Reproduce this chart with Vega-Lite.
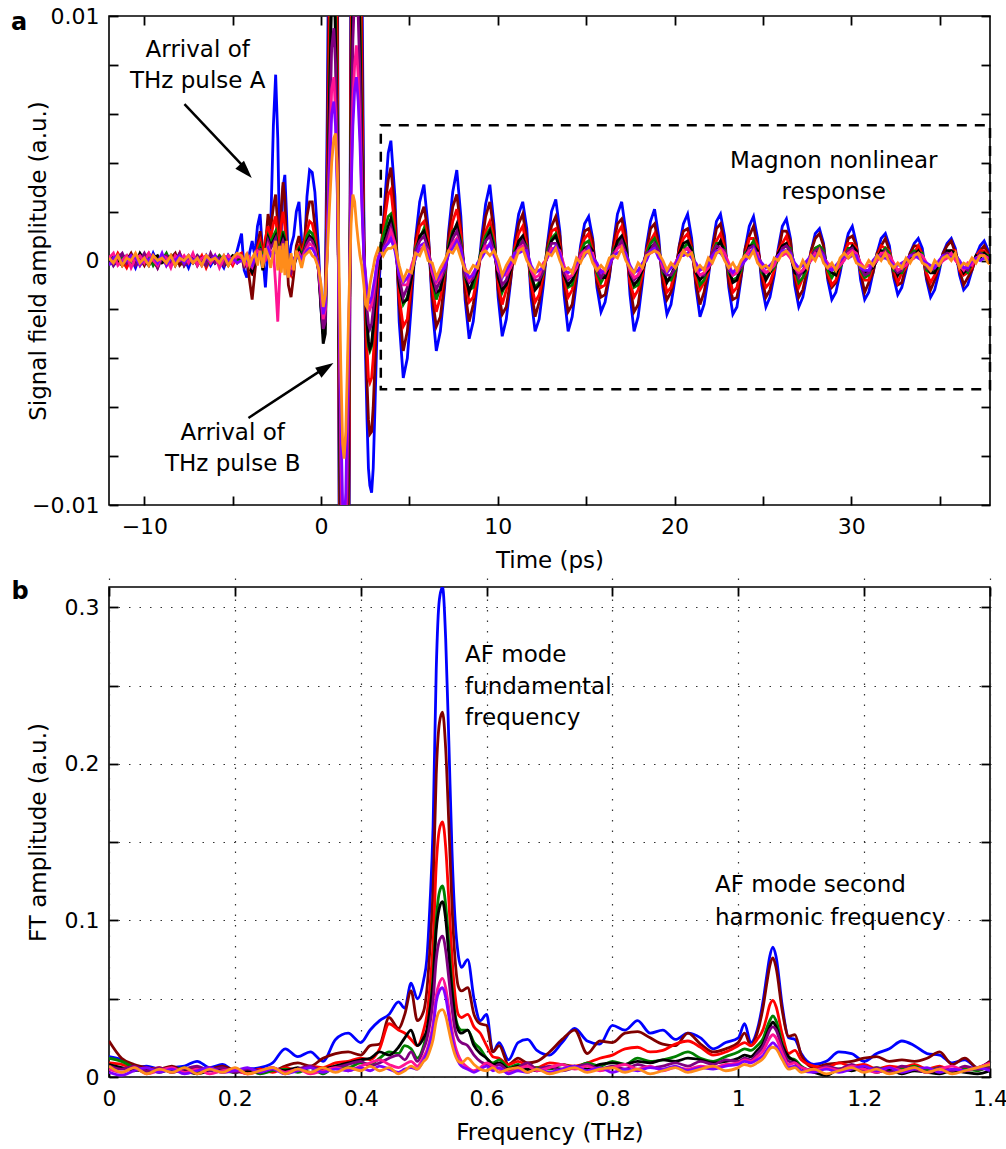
{
"$schema":"https://vega.github.io/schema/vega-lite/v6.json",
"background":"white",
"padding":{"left":10,"top":4,"right":0,"bottom":0},
"bounds":"flush",
"spacing":82,
"config":{
"view":{"stroke":"black","strokeWidth":1.6},
"font":"DejaVu Sans",
"text":{"font":"DejaVu Sans","color":"black"},
"axis":{"labelFont":"DejaVu Sans","labelFontSize":22,"labelColor":"black","titleFont":"DejaVu Sans","titleFontSize":23,"titleFontWeight":"normal","titleColor":"black","domain":false,"ticks":true,"tickColor":"black","tickWidth":1.8,"tickSize":9,"offset":-9,"labelFlush":false,"labelOverlap":false,"grid":false}
},
"datasets":{
"td":[
{"t":-12,"B":0.0001,"D":-0.0001,"R":0.0002,"G":0,"K":-0.0001,"P":0.0002,"M":0.0001,"V":-0.0002,"O":0.0001},
{"t":-11.75,"B":-0.0002,"D":0.0001,"R":-0.0001,"G":0.0002,"K":0.0001,"P":-0.0002,"M":0.0003,"V":0.0001,"O":-0.0001},
{"t":-11.5,"B":0,"D":0.0002,"R":0.0003,"G":-0.0001,"K":0,"P":0.0001,"M":-0.0002,"V":0.0002,"O":0.0002},
{"t":-11.25,"B":0.0002,"D":-0.0002,"R":0,"G":0.0001,"K":-0.0002,"P":0.0003,"M":0,"V":-0.0001,"O":-0.0002},
{"t":-11,"B":-0.0001,"D":0,"R":-0.0003,"G":0.0002,"K":0.0001,"P":-0.0001,"M":0.0002,"V":0,"O":0.0001},
{"t":-10.75,"B":0.0001,"D":0.0003,"R":0.0001,"G":-0.0002,"K":0.0002,"P":0.0002,"M":-0.0003,"V":0.0002,"O":0},
{"t":-10.5,"B":-0.0003,"D":-0.0001,"R":0.0002,"G":0,"K":-0.0001,"P":-0.0002,"M":0.0001,"V":0.0001,"O":0.0003},
{"t":-10.25,"B":0.0002,"D":0.0001,"R":-0.0002,"G":0.0001,"K":0.0003,"P":0,"M":0.0002,"V":-0.0002,"O":-0.0001},
{"t":-10,"B":0,"D":-0.0002,"R":0.0001,"G":-0.0001,"K":0,"P":0.0003,"M":-0.0001,"V":0.0001,"O":0.0001},
{"t":-9.75,"B":-0.0002,"D":0.0002,"R":0.0003,"G":0.0002,"K":-0.0002,"P":-0.0001,"M":0.0003,"V":0,"O":-0.0002},
{"t":-9.5,"B":0.0003,"D":0,"R":-0.0001,"G":-0.0002,"K":0.0001,"P":0.0002,"M":0,"V":0.0002,"O":0.0002},
{"t":-9.25,"B":-0.0001,"D":-0.0003,"R":0,"G":0.0001,"K":0.0002,"P":-0.0003,"M":-0.0002,"V":-0.0001,"O":0},
{"t":-9,"B":0.0001,"D":0.0002,"R":0.0002,"G":0,"K":-0.0001,"P":0.0001,"M":0.0002,"V":0.0003,"O":0.0001},
{"t":-8.75,"B":0,"D":-0.0001,"R":-0.0002,"G":0.0003,"K":0,"P":0.0002,"M":0.0001,"V":-0.0002,"O":-0.0001},
{"t":-8.5,"B":-0.0002,"D":0.0001,"R":0.0001,"G":-0.0001,"K":0.0002,"P":-0.0001,"M":-0.0003,"V":0.0001,"O":0.0002},
{"t":-8.25,"B":0.0002,"D":0.0003,"R":-0.0001,"G":0,"K":-0.0002,"P":0,"M":0.0002,"V":0,"O":-0.0002},
{"t":-8,"B":-0.0001,"D":-0.0002,"R":0.0003,"G":0.0002,"K":0.0001,"P":0.0003,"M":0,"V":0.0002,"O":0.0001},
{"t":-7.75,"B":0.0001,"D":0,"R":-0.0002,"G":-0.0002,"K":0,"P":-0.0002,"M":0.0002,"V":-0.0001,"O":0},
{"t":-7.5,"B":-0.0003,"D":0.0002,"R":0,"G":0.0001,"K":-0.0001,"P":0.0001,"M":-0.0001,"V":0.0002,"O":0.0002},
{"t":-7.25,"B":0.0002,"D":-0.0001,"R":0.0002,"G":-0.0001,"K":0.0002,"P":-0.0001,"M":0.0003,"V":0,"O":-0.0001},
{"t":-7,"B":0,"D":0.0001,"R":-0.0001,"G":0.0002,"K":-0.0002,"P":0.0002,"M":-0.0002,"V":0.0001,"O":0.0001},
{"t":-6.75,"B":-0.0001,"D":-0.0002,"R":0.0002,"G":0,"K":0.0001,"P":0,"M":0.0001,"V":-0.0002,"O":-0.0002},
{"t":-6.5,"B":0.0002,"D":0.0001,"R":-0.0003,"G":-0.0002,"K":0,"P":-0.0002,"M":0.0002,"V":0.0001,"O":0.0002},
{"t":-6.25,"B":-0.0002,"D":0,"R":0.0001,"G":0.0001,"K":0.0002,"P":0.0003,"M":-0.0001,"V":0,"O":0},
{"t":-6,"B":0.0001,"D":0.0002,"R":0,"G":-0.0001,"K":-0.0001,"P":-0.0001,"M":0.0002,"V":0.0002,"O":0.0001},
{"t":-5.75,"B":0,"D":-0.0001,"R":0.0002,"G":0.0002,"K":0.0001,"P":0.0001,"M":-0.0003,"V":-0.0001,"O":-0.0001},
{"t":-5.5,"B":-0.0003,"D":0.0001,"R":-0.0001,"G":0,"K":-0.0002,"P":-0.0002,"M":0.0001,"V":0.0002,"O":0.0002},
{"t":-5.25,"B":0.0002,"D":-0.0002,"R":0.0001,"G":-0.0002,"K":0,"P":0.0002,"M":0.0002,"V":0,"O":-0.0002},
{"t":-5,"B":-0.0001,"D":0.0001,"R":-0.0002,"G":0.0001,"K":0.0002,"P":0,"M":-0.0001,"V":0.0001,"O":0.0001},
{"t":-4.75,"B":0.0004,"D":-0.0001,"R":0.0002,"G":0,"K":0.0001,"P":0.0001,"M":0.0002,"V":-0.0001,"O":0.0003},
{"t":-4.5,"B":0.0011,"D":0.0002,"R":0.0003,"G":0.0001,"K":0.0001,"P":0.0002,"M":0.0001,"V":0,"O":0.0002},
{"t":-4.35,"B":-0.0004,"D":-0.0003,"R":-0.0001,"G":0,"K":-0.0001,"P":-0.0002,"M":0,"V":0.0001,"O":-0.0001},
{"t":-4.2,"B":-0.0007,"D":0.0001,"R":0.0002,"G":0.0001,"K":0,"P":0.0001,"M":-0.0002,"V":0,"O":0.0003},
{"t":-4.05,"B":0.0003,"D":-0.0008,"R":-0.0003,"G":-0.0002,"K":-0.0003,"P":-0.0002,"M":0.0001,"V":-0.0001,"O":-0.0002},
{"t":-3.9,"B":0.0008,"D":-0.0016,"R":-0.0006,"G":-0.0004,"K":-0.0005,"P":-0.0003,"M":-0.0002,"V":-0.0002,"O":0.0001},
{"t":-3.75,"B":0.0002,"D":-0.0005,"R":0.0001,"G":0,"K":-0.0001,"P":0,"M":0.0002,"V":0.0001,"O":0.0003},
{"t":-3.6,"B":0.0014,"D":0.0006,"R":0.0005,"G":0.0003,"K":0.0002,"P":0.0002,"M":0.0004,"V":0.0002,"O":-0.0002},
{"t":-3.45,"B":0.0019,"D":0.0012,"R":0.0008,"G":0.0006,"K":0.0004,"P":0.0005,"M":0.0003,"V":0.0003,"O":0.0004},
{"t":-3.3,"B":0.0002,"D":0.0003,"R":0.0002,"G":0.0001,"K":-0.0004,"P":-0.0002,"M":-0.0001,"V":0.0001,"O":-0.0003},
{"t":-3.15,"B":-0.0011,"D":0.0006,"R":0.0009,"G":0.0004,"K":0.0003,"P":0.0002,"M":0,"V":0.0003,"O":0.0005},
{"t":-3,"B":0.0006,"D":0.0019,"R":0.0014,"G":0.001,"K":0.0009,"P":0.0008,"M":0.0006,"V":0.0005,"O":0.0002},
{"t":-2.85,"B":0.0014,"D":0.0013,"R":0.0009,"G":0.0007,"K":0.0006,"P":0.0005,"M":0.0003,"V":0.0002,"O":-0.0003},
{"t":-2.7,"B":0.0055,"D":0.0022,"R":0.0015,"G":0.001,"K":0.0008,"P":0.0007,"M":0.0004,"V":0.0003,"O":0.0004},
{"t":-2.57,"B":0.0076,"D":0.0027,"R":0.0018,"G":0.0012,"K":0.001,"P":0.0009,"M":-0.001,"V":0.0004,"O":0.0008},
{"t":-2.45,"B":0.005,"D":0.0014,"R":0.0008,"G":0.0005,"K":0.0004,"P":0.0003,"M":-0.0025,"V":0.0002,"O":-0.0004},
{"t":-2.35,"B":0.0008,"D":0.0002,"R":0.0003,"G":0.0001,"K":-0.0002,"P":0,"M":-0.0008,"V":0.0001,"O":0.0006},
{"t":-2.25,"B":0.0012,"D":0.0022,"R":0.0015,"G":0.0009,"K":0.0007,"P":0.0006,"M":0.0005,"V":0.0004,"O":-0.0005},
{"t":-2.15,"B":0.003,"D":0.0032,"R":0.002,"G":0.0012,"K":0.001,"P":0.0008,"M":0.0006,"V":0.0005,"O":0.0007},
{"t":-2.05,"B":0.0035,"D":0.0025,"R":0.0014,"G":0.0009,"K":0.0008,"P":0.0006,"M":0.0005,"V":0.0003,"O":-0.0006},
{"t":-1.95,"B":0.0018,"D":0.0005,"R":0.0004,"G":0.0003,"K":0.0002,"P":0.0002,"M":0.0001,"V":0,"O":0.0008},
{"t":-1.85,"B":-0.0002,"D":-0.001,"R":-0.0004,"G":-0.0003,"K":-0.0002,"P":-0.0003,"M":-0.0002,"V":-0.0001,"O":-0.0007},
{"t":-1.7,"B":0.0006,"D":-0.0015,"R":-0.0006,"G":-0.0004,"K":-0.0004,"P":-0.0005,"M":-0.0003,"V":-0.0002,"O":0.0003},
{"t":-1.55,"B":0.001,"D":-0.0006,"R":-0.0002,"G":-0.0001,"K":-0.0002,"P":-0.0001,"M":0,"V":0.0001,"O":-0.0004},
{"t":-1.4,"B":0.002,"D":0.0006,"R":0.0004,"G":0.0003,"K":0.0001,"P":0.0002,"M":0.0002,"V":0.0001,"O":0.0004},
{"t":-1.25,"B":0.0024,"D":0.001,"R":0.0006,"G":0.0005,"K":0.0004,"P":0.0003,"M":0.0003,"V":0.0002,"O":0.0001},
{"t":-1.1,"B":0.0008,"D":0.0004,"R":0.0003,"G":0.0002,"K":0.0001,"P":0.0001,"M":0,"V":0.0001,"O":-0.0003},
{"t":-0.95,"B":0.0002,"D":0.0008,"R":0.0007,"G":0.0005,"K":0.0004,"P":0.0004,"M":0.0003,"V":0.0002,"O":0.0002},
{"t":-0.8,"B":0.0026,"D":0.0018,"R":0.0012,"G":0.001,"K":0.0008,"P":0.0007,"M":0.0005,"V":0.0004,"O":0.0003},
{"t":-0.65,"B":0.0037,"D":0.0024,"R":0.0016,"G":0.0012,"K":0.001,"P":0.0009,"M":0.0007,"V":0.0005,"O":0.0004},
{"t":-0.5,"B":0.0036,"D":0.0024,"R":0.0015,"G":0.0011,"K":0.0009,"P":0.0008,"M":0.0006,"V":0.0005,"O":0.0002},
{"t":-0.35,"B":0.0028,"D":0.0014,"R":0.001,"G":0.0007,"K":0.0006,"P":0.0005,"M":0.0004,"V":0.0003,"O":0.0001},
{"t":-0.15,"B":0.0005,"D":0,"R":-0.0002,"G":-0.0003,"K":-0.0004,"P":-0.0004,"M":-0.0003,"V":-0.0002,"O":-0.0003},
{"t":0,"B":-0.002,"D":-0.0018,"R":-0.0016,"G":-0.0018,"K":-0.002,"P":-0.0018,"M":-0.0014,"V":-0.0012,"O":-0.001},
{"t":0.12,"B":-0.003,"D":-0.0028,"R":-0.0026,"G":-0.003,"K":-0.0034,"P":-0.0028,"M":-0.0024,"V":-0.0022,"O":-0.0019},
{"t":0.24,"B":-0.001,"D":-0.002,"R":-0.0022,"G":-0.0025,"K":-0.003,"P":-0.0025,"M":-0.002,"V":-0.0018,"O":-0.0014},
{"t":0.35,"B":0.006,"D":0.004,"R":0.0025,"G":0.0015,"K":0.001,"P":0.001,"M":0.0008,"V":0.0006,"O":0.0002},
{"t":0.45,"B":0.015,"D":0.011,"R":0.008,"G":0.006,"K":0.0055,"P":0.0045,"M":0.0035,"V":0.003,"O":0.0018},
{"t":0.6,"B":0.03,"D":0.022,"R":0.016,"G":0.012,"K":0.011,"P":0.0087,"M":0.007,"V":0.006,"O":0.004},
{"t":0.72,"B":0.032,"D":0.024,"R":0.017,"G":0.013,"K":0.012,"P":0.0095,"M":0.0075,"V":0.0065,"O":0.005},
{"t":0.82,"B":0.025,"D":0.019,"R":0.014,"G":0.01,"K":0.009,"P":0.008,"M":0.006,"V":0.0055,"O":0.0052},
{"t":0.93,"B":0.012,"D":0.009,"R":0.0065,"G":0.005,"K":0.0045,"P":0.004,"M":0.003,"V":0.0025,"O":0.0035},
{"t":1.02,"B":-0.01,"D":-0.0075,"R":-0.0055,"G":-0.004,"K":-0.0038,"P":-0.003,"M":-0.0022,"V":-0.002,"O":-0.0005},
{"t":1.12,"B":-0.035,"D":-0.026,"R":-0.019,"G":-0.014,"K":-0.013,"P":-0.01,"M":-0.0075,"V":-0.0065,"O":-0.0045},
{"t":1.22,"B":-0.055,"D":-0.041,"R":-0.03,"G":-0.022,"K":-0.02,"P":-0.016,"M":-0.012,"V":-0.01,"O":-0.0075},
{"t":1.3,"B":-0.06,"D":-0.045,"R":-0.033,"G":-0.024,"K":-0.022,"P":-0.0175,"M":-0.013,"V":-0.011,"O":-0.0081},
{"t":1.4,"B":-0.05,"D":-0.038,"R":-0.028,"G":-0.02,"K":-0.0185,"P":-0.015,"M":-0.011,"V":-0.0095,"O":-0.007},
{"t":1.5,"B":-0.03,"D":-0.023,"R":-0.017,"G":-0.012,"K":-0.011,"P":-0.009,"M":-0.0065,"V":-0.0055,"O":-0.004},
{"t":1.6,"B":-0.008,"D":-0.006,"R":-0.0045,"G":-0.003,"K":-0.0028,"P":-0.0025,"M":-0.0018,"V":-0.0015,"O":-0.001},
{"t":1.7,"B":0.015,"D":0.011,"R":0.008,"G":0.006,"K":0.0055,"P":0.0045,"M":0.0032,"V":0.0028,"O":0.0015},
{"t":1.8,"B":0.03,"D":0.0225,"R":0.0165,"G":0.012,"K":0.011,"P":0.009,"M":0.0065,"V":0.0055,"O":0.0027},
{"t":1.9,"B":0.038,"D":0.028,"R":0.02,"G":0.015,"K":0.014,"P":0.011,"M":0.008,"V":0.007,"O":0.0024},
{"t":2,"B":0.04,"D":0.03,"R":0.022,"G":0.016,"K":0.015,"P":0.012,"M":0.0088,"V":0.0075,"O":0.0015},
{"t":2.1,"B":0.035,"D":0.026,"R":0.019,"G":0.014,"K":0.013,"P":0.01,"M":0.0075,"V":0.0065,"O":0.0008},
{"t":2.2,"B":0.025,"D":0.019,"R":0.014,"G":0.01,"K":0.009,"P":0.0075,"M":0.0055,"V":0.0048,"O":0.0002},
{"t":2.3,"B":0.013,"D":0.0095,"R":0.007,"G":0.005,"K":0.0045,"P":0.0038,"M":0.0028,"V":0.0024,"O":-0.0002},
{"t":2.42,"B":0.002,"D":0.001,"R":0.0008,"G":0.0005,"K":0.0004,"P":0.0003,"M":0.0002,"V":0.0002,"O":-0.001},
{"t":2.52,"B":-0.004,"D":-0.003,"R":-0.002,"G":-0.0015,"K":-0.0013,"P":-0.001,"M":-0.0008,"V":-0.0006,"O":-0.0018},
{"t":2.6,"B":-0.0065,"D":-0.005,"R":-0.0036,"G":-0.0027,"K":-0.0025,"P":-0.002,"M":-0.0015,"V":-0.0012,"O":-0.0019},
{"t":2.68,"B":-0.0085,"D":-0.0065,"R":-0.0048,"G":-0.0035,"K":-0.0033,"P":-0.0026,"M":-0.0019,"V":-0.0016,"O":-0.0015},
{"t":2.76,"B":-0.0092,"D":-0.0071,"R":-0.005,"G":-0.0037,"K":-0.0036,"P":-0.0028,"M":-0.002,"V":-0.0017,"O":-0.001},
{"t":2.86,"B":-0.0095,"D":-0.007,"R":-0.0048,"G":-0.0035,"K":-0.0034,"P":-0.0026,"M":-0.0018,"V":-0.0015,"O":-0.0006},
{"t":2.95,"B":-0.0085,"D":-0.006,"R":-0.004,"G":-0.0028,"K":-0.0027,"P":-0.002,"M":-0.0014,"V":-0.0011,"O":-0.0003},
{"t":3.05,"B":-0.006,"D":-0.0042,"R":-0.0028,"G":-0.0018,"K":-0.0018,"P":-0.0013,"M":-0.0009,"V":-0.0007,"O":0.0001},
{"t":3.14,"B":-0.0035,"D":-0.0022,"R":-0.0014,"G":-0.0008,"K":-0.0008,"P":-0.0005,"M":-0.0003,"V":-0.0002,"O":0.0003},
{"t":3.24,"B":-0.0015,"D":-0.0008,"R":-0.0004,"G":-0.0001,"K":-0.0002,"P":0.0001,"M":0.0002,"V":0.0001,"O":0.0005},
{"t":3.38,"B":0.0002,"D":0.0004,"R":0.0005,"G":0.0006,"K":0.0003,"P":0.0004,"M":0.0003,"V":0.0003,"O":0.0004},
{"t":3.52,"B":0.0015,"D":0.0014,"R":0.0012,"G":0.001,"K":0.0006,"P":0.0005,"M":0.0004,"V":0.0004,"O":0.0002},
{"t":3.66,"B":0.003,"D":0.0025,"R":0.002,"G":0.0014,"K":0.001,"P":0.0008,"M":0.0006,"V":0.0006,"O":0.0004},
{"t":3.8,"B":0.0044,"D":0.0033,"R":0.0027,"G":0.0018,"K":0.0014,"P":0.0011,"M":0.0008,"V":0.0007,"O":0.0005},
{"t":3.95,"B":0.0049,"D":0.0038,"R":0.0029,"G":0.0019,"K":0.0017,"P":0.0014,"M":0.0012,"V":0.0009,"O":0.0005},
{"t":4.18,"B":0.0026,"D":0.002,"R":0.0013,"G":0.0011,"K":0.0009,"P":0.0007,"M":0.0007,"V":0.0004,"O":0.0006},
{"t":4.42,"B":-0.0025,"D":-0.0018,"R":-0.0015,"G":-0.0009,"K":-0.001,"P":-0.0007,"M":-0.0005,"V":-0.0006,"O":-0.0002},
{"t":4.65,"B":-0.0048,"D":-0.0037,"R":-0.0027,"G":-0.0018,"K":-0.0017,"P":-0.0015,"M":-0.001,"V":-0.0009,"O":-0.0008},
{"t":4.88,"B":-0.004,"D":-0.0029,"R":-0.0024,"G":-0.0015,"K":-0.0016,"P":-0.0011,"M":-0.001,"V":-0.0007,"O":-0.0004},
{"t":5.12,"B":-0.0017,"D":-0.0011,"R":-0.0008,"G":-0.0006,"K":-0.0007,"P":-0.0004,"M":-0.0002,"V":-0.0004,"O":-0.0005},
{"t":5.35,"B":0.0009,"D":0.0008,"R":0.0006,"G":0.0005,"K":0.0002,"P":0.0004,"M":0.0003,"V":0.0001,"O":0.0003},
{"t":5.58,"B":0.0024,"D":0.0017,"R":0.0014,"G":0.0009,"K":0.001,"P":0.0008,"M":0.0004,"V":0.0006,"O":0.0002},
{"t":5.82,"B":0.0031,"D":0.0022,"R":0.0016,"G":0.0013,"K":0.0012,"P":0.001,"M":0.0006,"V":0.0007,"O":0.0006},
{"t":6.05,"B":0.0014,"D":0.0012,"R":0.0009,"G":0.0005,"K":0.0006,"P":0.0005,"M":0.0004,"V":0.0002,"O":0},
{"t":6.29,"B":-0.0019,"D":-0.0015,"R":-0.0011,"G":-0.0007,"K":-0.0008,"P":-0.0005,"M":-0.0005,"V":-0.0003,"O":-0.0001},
{"t":6.52,"B":-0.0037,"D":-0.0027,"R":-0.0021,"G":-0.0016,"K":-0.0013,"P":-0.0012,"M":-0.0009,"V":-0.0008,"O":-0.0007},
{"t":6.75,"B":-0.0029,"D":-0.0023,"R":-0.0015,"G":-0.0011,"K":-0.0012,"P":-0.0008,"M":-0.0007,"V":-0.0005,"O":-0.0003},
{"t":6.99,"B":-0.0011,"D":-0.0009,"R":-0.0005,"G":-0.0005,"K":-0.0003,"P":-0.0004,"M":-0.0001,"V":-0.0003,"O":0},
{"t":7.22,"B":0.0012,"D":0.001,"R":0.0006,"G":0.0006,"K":0.0005,"P":0.0003,"M":0.0004,"V":0.0003,"O":0.0004},
{"t":7.45,"B":0.0028,"D":0.0022,"R":0.0016,"G":0.0012,"K":0.0011,"P":0.0009,"M":0.0007,"V":0.0005,"O":0.0003},
{"t":7.68,"B":0.0037,"D":0.0027,"R":0.0021,"G":0.0014,"K":0.0015,"P":0.0012,"M":0.0009,"V":0.0008,"O":0.0006},
{"t":7.91,"B":0.0018,"D":0.0013,"R":0.0011,"G":0.0008,"K":0.0006,"P":0.0006,"M":0.0003,"V":0.0005,"O":0.0001},
{"t":8.15,"B":-0.0016,"D":-0.0013,"R":-0.0008,"G":-0.0007,"K":-0.0005,"P":-0.0006,"M":-0.0003,"V":-0.0004,"O":-0.0004},
{"t":8.38,"B":-0.0032,"D":-0.0025,"R":-0.0017,"G":-0.0012,"K":-0.0013,"P":-0.0009,"M":-0.0008,"V":-0.0007,"O":-0.0005},
{"t":8.61,"B":-0.0025,"D":-0.0018,"R":-0.0015,"G":-0.0011,"K":-0.0008,"P":-0.0007,"M":-0.0005,"V":-0.0006,"O":-0.0002},
{"t":8.85,"B":-0.0009,"D":-0.0006,"R":-0.0006,"G":-0.0003,"K":-0.0004,"P":-0.0002,"M":-0.0003,"V":-0.0001,"O":-0.0003},
{"t":9.08,"B":0.0009,"D":0.0006,"R":0.0004,"G":0.0005,"K":0.0004,"P":0.0002,"M":0.0003,"V":0.0001,"O":0.0003},
{"t":9.31,"B":0.0023,"D":0.0018,"R":0.0012,"G":0.001,"K":0.0008,"P":0.0008,"M":0.0006,"V":0.0004,"O":0.0004},
{"t":9.55,"B":0.0031,"D":0.0024,"R":0.0016,"G":0.0013,"K":0.0012,"P":0.001,"M":0.0006,"V":0.0007,"O":0.0002},
{"t":9.78,"B":0.0015,"D":0.0012,"R":0.0009,"G":0.0007,"K":0.0005,"P":0.0004,"M":0.0004,"V":0.0002,"O":0.0004},
{"t":10.02,"B":-0.0015,"D":-0.0012,"R":-0.0009,"G":-0.0005,"K":-0.0007,"P":-0.0004,"M":-0.0004,"V":-0.0002,"O":0},
{"t":10.25,"B":-0.0031,"D":-0.0022,"R":-0.0018,"G":-0.0013,"K":-0.0012,"P":-0.001,"M":-0.0006,"V":-0.0007,"O":-0.0006},
{"t":10.48,"B":-0.0024,"D":-0.0019,"R":-0.0012,"G":-0.0009,"K":-0.001,"P":-0.0008,"M":-0.0006,"V":-0.0004,"O":-0.0002},
{"t":10.72,"B":-0.0009,"D":-0.0008,"R":-0.0004,"G":-0.0003,"K":-0.0004,"P":-0.0002,"M":-0.0003,"V":-0.0001,"O":0.0001},
{"t":10.95,"B":0.0008,"D":0.0005,"R":0.0005,"G":0.0004,"K":0.0002,"P":0.0003,"M":0.0001,"V":0.0003,"O":-0.0001},
{"t":11.18,"B":0.0019,"D":0.0015,"R":0.0011,"G":0.0007,"K":0.0008,"P":0.0005,"M":0.0005,"V":0.0003,"O":0.0004},
{"t":11.41,"B":0.0024,"D":0.0019,"R":0.0014,"G":0.0009,"K":0.001,"P":0.0008,"M":0.0006,"V":0.0004,"O":0.0005},
{"t":11.64,"B":0.0013,"D":0.0009,"R":0.0006,"G":0.0006,"K":0.0004,"P":0.0005,"M":0.0002,"V":0.0004,"O":0},
{"t":11.88,"B":-0.0015,"D":-0.001,"R":-0.0009,"G":-0.0007,"K":-0.0005,"P":-0.0004,"M":-0.0004,"V":-0.0002,"O":-0.0003},
{"t":12.11,"B":-0.0029,"D":-0.0023,"R":-0.0017,"G":-0.0011,"K":-0.0012,"P":-0.0008,"M":-0.0007,"V":-0.0005,"O":-0.0005},
{"t":12.34,"B":-0.0024,"D":-0.0017,"R":-0.0014,"G":-0.0009,"K":-0.001,"P":-0.0008,"M":-0.0006,"V":-0.0004,"O":-0.0001},
{"t":12.58,"B":-0.001,"D":-0.0007,"R":-0.0005,"G":-0.0005,"K":-0.0003,"P":-0.0004,"M":-0.0001,"V":-0.0003,"O":-0.0003},
{"t":12.81,"B":0.0007,"D":0.0006,"R":0.0003,"G":0.0004,"K":0.0002,"P":0.0003,"M":0.0001,"V":0.0002,"O":0.0003},
{"t":13.04,"B":0.002,"D":0.0014,"R":0.0012,"G":0.0009,"K":0.0008,"P":0.0007,"M":0.0005,"V":0.0003,"O":0.0002},
{"t":13.28,"B":0.0025,"D":0.0018,"R":0.0013,"G":0.0011,"K":0.001,"P":0.0007,"M":0.0005,"V":0.0006,"O":0.0005},
{"t":13.51,"B":0.0012,"D":0.001,"R":0.0006,"G":0.0004,"K":0.0005,"P":0.0003,"M":0.0004,"V":0.0003,"O":0},
{"t":13.75,"B":-0.0014,"D":-0.001,"R":-0.0007,"G":-0.0005,"K":-0.0006,"P":-0.0005,"M":-0.0002,"V":-0.0004,"O":-0.0004},
{"t":13.98,"B":-0.0029,"D":-0.0021,"R":-0.0015,"G":-0.0011,"K":-0.001,"P":-0.0008,"M":-0.0007,"V":-0.0005,"O":-0.0003},
{"t":14.21,"B":-0.0023,"D":-0.0018,"R":-0.0012,"G":-0.001,"K":-0.0008,"P":-0.0006,"M":-0.0006,"V":-0.0004,"O":-0.0005},
{"t":14.45,"B":-0.0009,"D":-0.0006,"R":-0.0004,"G":-0.0003,"K":-0.0004,"P":-0.0002,"M":-0.0003,"V":-0.0001,"O":0.0001},
{"t":14.68,"B":0.0006,"D":0.0004,"R":0.0004,"G":0.0003,"K":0.0001,"P":0.0003,"M":0.0002,"V":0,"O":-0.0001},
{"t":14.91,"B":0.0015,"D":0.0012,"R":0.0009,"G":0.0007,"K":0.0005,"P":0.0004,"M":0.0004,"V":0.0002,"O":0.0003},
{"t":15.14,"B":0.0018,"D":0.0013,"R":0.0011,"G":0.0008,"K":0.0006,"P":0.0006,"M":0.0003,"V":0.0005,"O":0.0004},
{"t":15.37,"B":0.0009,"D":0.0008,"R":0.0004,"G":0.0003,"K":0.0004,"P":0.0002,"M":0.0003,"V":0.0001,"O":-0.0001},
{"t":15.61,"B":-0.0011,"D":-0.0009,"R":-0.0007,"G":-0.0005,"K":-0.0003,"P":-0.0004,"M":-0.0003,"V":-0.0001,"O":-0.0004},
{"t":15.84,"B":-0.0021,"D":-0.0015,"R":-0.0011,"G":-0.0009,"K":-0.0007,"P":-0.0007,"M":-0.0004,"V":-0.0005,"O":-0.0002},
{"t":16.07,"B":-0.0017,"D":-0.0014,"R":-0.001,"G":-0.0006,"K":-0.0007,"P":-0.0004,"M":-0.0005,"V":-0.0004,"O":-0.0004},
{"t":16.31,"B":-0.0007,"D":-0.0006,"R":-0.0003,"G":-0.0002,"K":-0.0002,"P":-0.0003,"M":-0.0001,"V":-0.0002,"O":0.0001},
{"t":16.54,"B":0.0007,"D":0.0006,"R":0.0003,"G":0.0004,"K":0.0002,"P":0.0003,"M":0.0001,"V":0.0002,"O":0.0002},
{"t":16.77,"B":0.0019,"D":0.0015,"R":0.0011,"G":0.0007,"K":0.0008,"P":0.0005,"M":0.0005,"V":0.0003,"O":0.0001},
{"t":17.01,"B":0.0024,"D":0.0017,"R":0.0014,"G":0.0009,"K":0.001,"P":0.0008,"M":0.0006,"V":0.0004,"O":0.0005},
{"t":17.24,"B":0.0012,"D":0.001,"R":0.0006,"G":0.0006,"K":0.0005,"P":0.0003,"M":0.0002,"V":0.0003,"O":0},
{"t":17.48,"B":-0.0014,"D":-0.001,"R":-0.0009,"G":-0.0005,"K":-0.0006,"P":-0.0005,"M":-0.0004,"V":-0.0002,"O":-0.0003},
{"t":17.71,"B":-0.0029,"D":-0.0021,"R":-0.0015,"G":-0.0011,"K":-0.001,"P":-0.0008,"M":-0.0007,"V":-0.0005,"O":-0.0005},
{"t":17.94,"B":-0.0023,"D":-0.0018,"R":-0.0012,"G":-0.001,"K":-0.0008,"P":-0.0006,"M":-0.0006,"V":-0.0004,"O":-0.0001},
{"t":18.18,"B":-0.0009,"D":-0.0006,"R":-0.0006,"G":-0.0003,"K":-0.0004,"P":-0.0002,"M":-0.0003,"V":-0.0001,"O":-0.0003},
{"t":18.41,"B":0.0006,"D":0.0004,"R":0.0004,"G":0.0003,"K":0.0001,"P":0.0003,"M":0.0002,"V":0,"O":0.0002},
{"t":18.64,"B":0.0016,"D":0.0013,"R":0.0008,"G":0.0007,"K":0.0005,"P":0.0004,"M":0.0003,"V":0.0004,"O":0.0003},
{"t":18.87,"B":0.0021,"D":0.0015,"R":0.0011,"G":0.0009,"K":0.0007,"P":0.0007,"M":0.0004,"V":0.0005,"O":0.0004},
{"t":19.1,"B":0.001,"D":0.0007,"R":0.0005,"G":0.0005,"K":0.0003,"P":0.0004,"M":0.0003,"V":0.0001,"O":0.0003},
{"t":19.34,"B":-0.0011,"D":-0.0009,"R":-0.0005,"G":-0.0005,"K":-0.0003,"P":-0.0004,"M":-0.0003,"V":-0.0001,"O":0},
{"t":19.57,"B":-0.0022,"D":-0.0016,"R":-0.0013,"G":-0.0008,"K":-0.0009,"P":-0.0006,"M":-0.0004,"V":-0.0005,"O":-0.0004},
{"t":19.8,"B":-0.0018,"D":-0.0013,"R":-0.0011,"G":-0.0008,"K":-0.0006,"P":-0.0006,"M":-0.0003,"V":-0.0003,"O":-0.0001},
{"t":20.04,"B":-0.0007,"D":-0.0006,"R":-0.0003,"G":-0.0004,"K":-0.0002,"P":-0.0003,"M":-0.0001,"V":-0.0002,"O":-0.0003},
{"t":20.27,"B":0.0006,"D":0.0006,"R":0.0004,"G":0.0001,"K":0.0003,"P":0.0001,"M":0.0002,"V":0.0002,"O":0},
{"t":20.5,"B":0.0015,"D":0.0012,"R":0.0009,"G":0.0005,"K":0.0007,"P":0.0004,"M":0.0004,"V":0.0002,"O":0.0004},
{"t":20.74,"B":0.0019,"D":0.0013,"R":0.0011,"G":0.0007,"K":0.0008,"P":0.0005,"M":0.0005,"V":0.0003,"O":0.0002},
{"t":20.97,"B":0.0009,"D":0.0006,"R":0.0004,"G":0.0005,"K":0.0004,"P":0.0002,"M":0.0003,"V":0.0001,"O":0.0003},
{"t":21.21,"B":-0.0011,"D":-0.0009,"R":-0.0007,"G":-0.0003,"K":-0.0005,"P":-0.0004,"M":-0.0003,"V":-0.0001,"O":-0.0004},
{"t":21.44,"B":-0.0023,"D":-0.0018,"R":-0.0012,"G":-0.001,"K":-0.0008,"P":-0.0006,"M":-0.0006,"V":-0.0004,"O":-0.0002},
{"t":21.67,"B":-0.0018,"D":-0.0013,"R":-0.0009,"G":-0.0008,"K":-0.0006,"P":-0.0006,"M":-0.0005,"V":-0.0003,"O":-0.0004},
{"t":21.91,"B":-0.0007,"D":-0.0004,"R":-0.0005,"G":-0.0002,"K":-0.0004,"P":-0.0001,"M":-0.0003,"V":-0.0002,"O":0.0001},
{"t":22.14,"B":0.0006,"D":0.0004,"R":0.0004,"G":0.0003,"K":0.0001,"P":0.0003,"M":0,"V":0.0002,"O":-0.0001},
{"t":22.37,"B":0.0016,"D":0.0013,"R":0.0008,"G":0.0007,"K":0.0005,"P":0.0006,"M":0.0003,"V":0.0004,"O":0.0003},
{"t":22.6,"B":0.0019,"D":0.0015,"R":0.0011,"G":0.0007,"K":0.0008,"P":0.0005,"M":0.0005,"V":0.0003,"O":0.0004},
{"t":22.83,"B":0.001,"D":0.0007,"R":0.0005,"G":0.0005,"K":0.0003,"P":0.0004,"M":0.0003,"V":0.0001,"O":0},
{"t":23.07,"B":-0.0011,"D":-0.0009,"R":-0.0005,"G":-0.0005,"K":-0.0003,"P":-0.0004,"M":-0.0001,"V":-0.0003,"O":-0.0003},
{"t":23.3,"B":-0.0022,"D":-0.0016,"R":-0.0013,"G":-0.0008,"K":-0.0009,"P":-0.0006,"M":-0.0006,"V":-0.0005,"O":-0.0001},
{"t":23.53,"B":-0.0019,"D":-0.0015,"R":-0.0011,"G":-0.0007,"K":-0.0008,"P":-0.0005,"M":-0.0005,"V":-0.0003,"O":-0.0004},
{"t":23.77,"B":-0.0007,"D":-0.0006,"R":-0.0003,"G":-0.0004,"K":-0.0002,"P":-0.0003,"M":-0.0001,"V":-0.0002,"O":0},
{"t":24,"B":0.0005,"D":0.0005,"R":0.0002,"G":0.0003,"K":0.0001,"P":0.0001,"M":0.0002,"V":0,"O":0.0002},
{"t":24.23,"B":0.0014,"D":0.001,"R":0.0009,"G":0.0005,"K":0.0006,"P":0.0005,"M":0.0004,"V":0.0002,"O":0.0001},
{"t":24.47,"B":0.0018,"D":0.0014,"R":0.0009,"G":0.0008,"K":0.0006,"P":0.0006,"M":0.0003,"V":0.0005,"O":0.0004},
{"t":24.7,"B":0.0009,"D":0.0006,"R":0.0006,"G":0.0003,"K":0.0004,"P":0.0002,"M":0.0003,"V":0.0001,"O":-0.0001},
{"t":24.94,"B":-0.001,"D":-0.0007,"R":-0.0005,"G":-0.0005,"K":-0.0003,"P":-0.0004,"M":-0.0003,"V":-0.0001,"O":-0.0003},
{"t":25.17,"B":-0.0019,"D":-0.0015,"R":-0.0011,"G":-0.0007,"K":-0.0008,"P":-0.0005,"M":-0.0005,"V":-0.0003,"O":-0.0002},
{"t":25.4,"B":-0.0015,"D":-0.0012,"R":-0.0009,"G":-0.0005,"K":-0.0005,"P":-0.0004,"M":-0.0004,"V":-0.0002,"O":-0.0004},
{"t":25.64,"B":-0.0006,"D":-0.0004,"R":-0.0004,"G":-0.0003,"K":-0.0001,"P":-0.0001,"M":-0.0002,"V":0,"O":0.0001},
{"t":25.87,"B":0.0005,"D":0.0003,"R":0.0004,"G":0.0001,"K":0.0003,"P":0.0001,"M":0.0002,"V":0.0002,"O":0},
{"t":26.1,"B":0.0014,"D":0.0012,"R":0.0007,"G":0.0005,"K":0.0006,"P":0.0005,"M":0.0002,"V":0.0004,"O":0.0003},
{"t":26.33,"B":0.0017,"D":0.0012,"R":0.001,"G":0.0006,"K":0.0007,"P":0.0006,"M":0.0003,"V":0.0004,"O":0.0004},
{"t":26.56,"B":0.0009,"D":0.0008,"R":0.0004,"G":0.0005,"K":0.0002,"P":0.0004,"M":0.0001,"V":0.0003,"O":0.0002},
{"t":26.8,"B":-0.001,"D":-0.0007,"R":-0.0005,"G":-0.0003,"K":-0.0005,"P":-0.0002,"M":-0.0003,"V":-0.0001,"O":-0.0003},
{"t":27.03,"B":-0.0019,"D":-0.0015,"R":-0.0011,"G":-0.0009,"K":-0.0006,"P":-0.0007,"M":-0.0005,"V":-0.0003,"O":-0.0004},
{"t":27.26,"B":-0.0015,"D":-0.0012,"R":-0.0007,"G":-0.0007,"K":-0.0005,"P":-0.0004,"M":-0.0004,"V":-0.0002,"O":0},
{"t":27.5,"B":-0.0006,"D":-0.0004,"R":-0.0004,"G":-0.0003,"K":-0.0003,"P":-0.0001,"M":-0.0002,"V":0,"O":-0.0003},
{"t":27.73,"B":0.0004,"D":0.0004,"R":0.0003,"G":0.0001,"K":0.0002,"P":0.0002,"M":0,"V":0.0002,"O":0.0002},
{"t":27.96,"B":0.0011,"D":0.0009,"R":0.0005,"G":0.0005,"K":0.0003,"P":0.0004,"M":0.0003,"V":0.0001,"O":0},
{"t":28.2,"B":0.0013,"D":0.0011,"R":0.0006,"G":0.0006,"K":0.0004,"P":0.0005,"M":0.0002,"V":0.0004,"O":0.0004},
{"t":28.43,"B":0.0007,"D":0.0006,"R":0.0003,"G":0.0004,"K":0.0002,"P":0.0003,"M":0.0001,"V":0.0002,"O":-0.0001},
{"t":28.67,"B":-0.0008,"D":-0.0007,"R":-0.0005,"G":-0.0004,"K":-0.0002,"P":-0.0003,"M":-0.0001,"V":-0.0003,"O":-0.0003},
{"t":28.9,"B":-0.0016,"D":-0.0011,"R":-0.001,"G":-0.0007,"K":-0.0005,"P":-0.0004,"M":-0.0003,"V":-0.0004,"O":-0.0001},
{"t":29.13,"B":-0.0013,"D":-0.0009,"R":-0.0008,"G":-0.0004,"K":-0.0006,"P":-0.0003,"M":-0.0004,"V":-0.0002,"O":-0.0004},
{"t":29.37,"B":-0.0005,"D":-0.0003,"R":-0.0002,"G":-0.0003,"K":-0.0001,"P":-0.0001,"M":-0.0002,"V":0,"O":0.0001},
{"t":29.6,"B":0.0004,"D":0.0002,"R":0.0003,"G":0.0001,"K":0.0002,"P":0.0002,"M":0,"V":0.0002,"O":0.0003},
{"t":29.83,"B":0.0011,"D":0.0009,"R":0.0007,"G":0.0005,"K":0.0003,"P":0.0004,"M":0.0003,"V":0.0001,"O":0.0001},
{"t":30.06,"B":0.0014,"D":0.001,"R":0.0007,"G":0.0005,"K":0.0006,"P":0.0005,"M":0.0004,"V":0.0002,"O":0.0003},
{"t":30.29,"B":0.0007,"D":0.0006,"R":0.0005,"G":0.0002,"K":0.0004,"P":0.0001,"M":0.0003,"V":0.0002,"O":-0.0001},
{"t":30.53,"B":-0.0008,"D":-0.0005,"R":-0.0005,"G":-0.0004,"K":-0.0002,"P":-0.0003,"M":-0.0001,"V":-0.0003,"O":-0.0002},
{"t":30.76,"B":-0.0016,"D":-0.0013,"R":-0.0008,"G":-0.0007,"K":-0.0005,"P":-0.0006,"M":-0.0003,"V":-0.0004,"O":-0.0003},
{"t":30.99,"B":-0.0013,"D":-0.0009,"R":-0.0008,"G":-0.0006,"K":-0.0004,"P":-0.0005,"M":-0.0002,"V":-0.0004,"O":0},
{"t":31.23,"B":-0.0005,"D":-0.0005,"R":-0.0002,"G":-0.0001,"K":-0.0003,"P":-0.0001,"M":-0.0002,"V":0,"O":-0.0002},
{"t":31.46,"B":0.0003,"D":0.0003,"R":0.0001,"G":0.0002,"K":0,"P":0.0002,"M":0,"V":0.0002,"O":0.0002},
{"t":31.69,"B":0.0009,"D":0.0006,"R":0.0006,"G":0.0003,"K":0.0004,"P":0.0002,"M":0.0003,"V":0.0001,"O":0},
{"t":31.93,"B":0.0011,"D":0.0009,"R":0.0005,"G":0.0005,"K":0.0003,"P":0.0004,"M":0.0003,"V":0.0001,"O":0.0003},
{"t":32.16,"B":0.0006,"D":0.0004,"R":0.0004,"G":0.0003,"K":0.0001,"P":0.0001,"M":0.0002,"V":0,"O":-0.0001},
{"t":32.4,"B":-0.0007,"D":-0.0006,"R":-0.0003,"G":-0.0004,"K":-0.0002,"P":-0.0003,"M":-0.0001,"V":-0.0002,"O":-0.0003},
{"t":32.63,"B":-0.0014,"D":-0.001,"R":-0.0009,"G":-0.0005,"K":-0.0006,"P":-0.0005,"M":-0.0004,"V":-0.0002,"O":-0.0001},
{"t":32.86,"B":-0.0011,"D":-0.0009,"R":-0.0005,"G":-0.0005,"K":-0.0003,"P":-0.0004,"M":-0.0003,"V":-0.0001,"O":-0.0003},
{"t":33.1,"B":-0.0004,"D":-0.0002,"R":-0.0003,"G":-0.0001,"K":-0.0002,"P":0,"M":-0.0002,"V":0,"O":0.0001},
{"t":33.33,"B":0.0003,"D":0.0003,"R":0.0001,"G":0.0002,"K":0,"P":0.0002,"M":0,"V":0.0002,"O":-0.0001},
{"t":33.56,"B":0.0007,"D":0.0006,"R":0.0003,"G":0.0004,"K":0.0002,"P":0.0003,"M":0.0001,"V":0.0002,"O":0.0002},
{"t":33.79,"B":0.0009,"D":0.0006,"R":0.0006,"G":0.0003,"K":0.0004,"P":0.0002,"M":0.0003,"V":0.0001,"O":0.0003},
{"t":34.02,"B":0.0005,"D":0.0003,"R":0.0002,"G":0.0003,"K":0.0001,"P":0.0001,"M":0.0002,"V":0,"O":-0.0001},
{"t":34.26,"B":-0.0008,"D":-0.0007,"R":-0.0005,"G":-0.0004,"K":-0.0002,"P":-0.0003,"M":-0.0001,"V":-0.0001,"O":-0.0002},
{"t":34.49,"B":-0.0015,"D":-0.0012,"R":-0.0009,"G":-0.0005,"K":-0.0005,"P":-0.0004,"M":-0.0004,"V":-0.0002,"O":-0.0004},
{"t":34.72,"B":-0.0012,"D":-0.0008,"R":-0.0006,"G":-0.0004,"K":-0.0005,"P":-0.0003,"M":-0.0002,"V":-0.0003,"O":0},
{"t":34.96,"B":-0.0005,"D":-0.0003,"R":-0.0002,"G":-0.0003,"K":-0.0001,"P":-0.0001,"M":-0.0002,"V":0,"O":-0.0002},
{"t":35.19,"B":0.0003,"D":0.0003,"R":0.0001,"G":0.0002,"K":0,"P":0.0002,"M":0,"V":0.0002,"O":0.0001},
{"t":35.42,"B":0.0007,"D":0.0006,"R":0.0003,"G":0.0002,"K":0.0004,"P":0.0003,"M":0.0001,"V":0.0002,"O":0.0002},
{"t":35.66,"B":0.0009,"D":0.0008,"R":0.0004,"G":0.0003,"K":0.0004,"P":0.0002,"M":0.0003,"V":0.0001,"O":0},
{"t":35.89,"B":0.0005,"D":0.0003,"R":0.0004,"G":0.0001,"K":0.0003,"P":0.0001,"M":0,"V":0.0002,"O":0.0003},
{"t":36.13,"B":-0.0006,"D":-0.0004,"R":-0.0004,"G":-0.0003,"K":-0.0001,"P":-0.0003,"M":-0.0002,"V":0,"O":-0.0003},
{"t":36.36,"B":-0.0012,"D":-0.001,"R":-0.0006,"G":-0.0004,"K":-0.0005,"P":-0.0003,"M":-0.0004,"V":-0.0003,"O":-0.0001},
{"t":36.59,"B":-0.001,"D":-0.0007,"R":-0.0005,"G":-0.0005,"K":-0.0003,"P":-0.0004,"M":-0.0001,"V":-0.0003,"O":-0.0002},
{"t":36.83,"B":-0.0004,"D":-0.0004,"R":-0.0003,"G":-0.0001,"K":-0.0002,"P":0,"M":-0.0002,"V":0,"O":0.0001},
{"t":37.06,"B":0.0002,"D":0.0001,"R":0.0002,"G":0,"K":0.0002,"P":0,"M":0.0001,"V":0.0001,"O":-0.0001},
{"t":37.29,"B":0.0006,"D":0.0004,"R":0.0004,"G":0.0003,"K":0.0001,"P":0.0003,"M":0.0002,"V":0,"O":0.0002},
{"t":37.52,"B":0.0008,"D":0.0006,"R":0.0004,"G":0.0003,"K":0.0003,"P":0.0002,"M":0.0002,"V":0.0001,"O":0.0002},
{"t":37.75,"B":0.0004,"D":0.0003,"R":0.0002,"G":0.0002,"K":0.0001,"P":0.0001,"M":0.0001,"V":0,"O":-0.0001},
{"t":37.99,"B":-0.0005,"D":-0.0004,"R":-0.0003,"G":-0.0002,"K":-0.0002,"P":-0.0002,"M":-0.0001,"V":-0.0001,"O":-0.0002}
],
"ft":[
{"f":0,"B":0.013,"D":0.023,"R":0.009,"G":0.012,"K":0.008,"P":0.007,"M":0.005,"V":0.003,"O":0.007},
{"f":0.02,"B":0.011,"D":0.012,"R":0.008,"G":0.01,"K":0.006,"P":0.005,"M":0.003,"V":0.001,"O":0.003},
{"f":0.04,"B":0.006,"D":0.008,"R":0.005,"G":0.006,"K":0.004,"P":0.007,"M":0.006,"V":0.004,"O":0.006},
{"f":0.06,"B":0.007,"D":0.006,"R":0.004,"G":0.003,"K":0.005,"P":0.004,"M":0.002,"V":0.006,"O":0.002},
{"f":0.08,"B":0.005,"D":0.005,"R":0.006,"G":0.005,"K":0.003,"P":0.006,"M":0.004,"V":0.003,"O":0.005},
{"f":0.1,"B":0.006,"D":0.007,"R":0.003,"G":0.004,"K":0.005,"P":0.003,"M":0.006,"V":0.005,"O":0.003},
{"f":0.12,"B":0.007,"D":0.004,"R":0.005,"G":0.006,"K":0.004,"P":0.005,"M":0.003,"V":0.002,"O":0.006},
{"f":0.14,"B":0.01,"D":0.006,"R":0.004,"G":0.003,"K":0.002,"P":0.007,"M":0.005,"V":0.004,"O":0.002},
{"f":0.16,"B":0.006,"D":0.005,"R":0.006,"G":0.005,"K":0.004,"P":0.004,"M":0.002,"V":0.006,"O":0.005},
{"f":0.18,"B":0.008,"D":0.007,"R":0.003,"G":0.004,"K":0.005,"P":0.006,"M":0.004,"V":0.003,"O":0.003},
{"f":0.2,"B":0.004,"D":0.004,"R":0.004,"G":0.003,"K":0.003,"P":0.003,"M":0.005,"V":0.004,"O":0.006},
{"f":0.22,"B":0.005,"D":0.003,"R":0.002,"G":0.005,"K":0.004,"P":0.005,"M":0.002,"V":0.006,"O":0.002},
{"f":0.24,"B":0.006,"D":0.005,"R":0.005,"G":0.002,"K":0.003,"P":0.004,"M":0.004,"V":0.003,"O":0.004},
{"f":0.26,"B":0.009,"D":0.004,"R":0.003,"G":0.004,"K":0.005,"P":0.006,"M":0.006,"V":0.005,"O":0.006},
{"f":0.28,"B":0.018,"D":0.007,"R":0.006,"G":0.005,"K":0.004,"P":0.003,"M":0.003,"V":0.002,"O":0.002},
{"f":0.3,"B":0.013,"D":0.009,"R":0.004,"G":0.003,"K":0.006,"P":0.005,"M":0.005,"V":0.004,"O":0.005},
{"f":0.32,"B":0.016,"D":0.007,"R":0.007,"G":0.006,"K":0.003,"P":0.007,"M":0.002,"V":0.006,"O":0.003},
{"f":0.34,"B":0.01,"D":0.012,"R":0.006,"G":0.002,"K":0.005,"P":0.004,"M":0.004,"V":0.003,"O":0.006},
{"f":0.36,"B":0.024,"D":0.015,"R":0.009,"G":0.007,"K":0.007,"P":0.006,"M":0.006,"V":0.005,"O":0.003},
{"f":0.38,"B":0.028,"D":0.016,"R":0.01,"G":0.006,"K":0.009,"P":0.008,"M":0.004,"V":0.004,"O":0.006},
{"f":0.4,"B":0.022,"D":0.014,"R":0.012,"G":0.009,"K":0.011,"P":0.01,"M":0.007,"V":0.006,"O":0.004},
{"f":0.415,"B":0.03,"D":0.02,"R":0.011,"G":0.008,"K":0.012,"P":0.007,"M":0.009,"V":0.004,"O":0.007},
{"f":0.43,"B":0.036,"D":0.021,"R":0.018,"G":0.012,"K":0.016,"P":0.009,"M":0.011,"V":0.007,"O":0.004},
{"f":0.445,"B":0.04,"D":0.038,"R":0.034,"G":0.016,"K":0.014,"P":0.012,"M":0.008,"V":0.005,"O":0.006},
{"f":0.46,"B":0.048,"D":0.031,"R":0.03,"G":0.015,"K":0.019,"P":0.014,"M":0.006,"V":0.003,"O":0.002},
{"f":0.47,"B":0.044,"D":0.04,"R":0.028,"G":0.02,"K":0.025,"P":0.011,"M":0.008,"V":0.005,"O":0.004},
{"f":0.48,"B":0.06,"D":0.055,"R":0.024,"G":0.018,"K":0.03,"P":0.016,"M":0.01,"V":0.006,"O":0.007},
{"f":0.49,"B":0.05,"D":0.036,"R":0.02,"G":0.012,"K":0.02,"P":0.01,"M":0.007,"V":0.005,"O":0.005},
{"f":0.5,"B":0.062,"D":0.042,"R":0.03,"G":0.02,"K":0.025,"P":0.018,"M":0.013,"V":0.011,"O":0.01},
{"f":0.505,"B":0.075,"D":0.055,"R":0.039,"G":0.028,"K":0.03,"P":0.024,"M":0.017,"V":0.015,"O":0.012},
{"f":0.51,"B":0.11,"D":0.082,"R":0.058,"G":0.043,"K":0.043,"P":0.034,"M":0.024,"V":0.022,"O":0.017},
{"f":0.515,"B":0.16,"D":0.12,"R":0.085,"G":0.064,"K":0.061,"P":0.049,"M":0.034,"V":0.031,"O":0.024},
{"f":0.52,"B":0.26,"D":0.193,"R":0.135,"G":0.1,"K":0.094,"P":0.075,"M":0.052,"V":0.048,"O":0.036},
{"f":0.525,"B":0.305,"D":0.226,"R":0.158,"G":0.118,"K":0.108,"P":0.087,"M":0.06,"V":0.055,"O":0.042},
{"f":0.53,"B":0.313,"D":0.233,"R":0.163,"G":0.122,"K":0.112,"P":0.09,"M":0.063,"V":0.057,"O":0.043},
{"f":0.535,"B":0.28,"D":0.21,"R":0.147,"G":0.11,"K":0.101,"P":0.081,"M":0.057,"V":0.051,"O":0.039},
{"f":0.54,"B":0.215,"D":0.162,"R":0.113,"G":0.085,"K":0.078,"P":0.063,"M":0.044,"V":0.039,"O":0.03},
{"f":0.545,"B":0.145,"D":0.11,"R":0.077,"G":0.058,"K":0.055,"P":0.044,"M":0.03,"V":0.026,"O":0.021},
{"f":0.55,"B":0.1,"D":0.075,"R":0.052,"G":0.04,"K":0.038,"P":0.03,"M":0.02,"V":0.016,"O":0.014},
{"f":0.555,"B":0.078,"D":0.058,"R":0.04,"G":0.032,"K":0.03,"P":0.024,"M":0.014,"V":0.01,"O":0.01},
{"f":0.56,"B":0.07,"D":0.055,"R":0.038,"G":0.03,"K":0.028,"P":0.022,"M":0.01,"V":0.007,"O":0.009},
{"f":0.57,"B":0.075,"D":0.057,"R":0.04,"G":0.03,"K":0.03,"P":0.02,"M":0.006,"V":0.005,"O":0.012},
{"f":0.58,"B":0.05,"D":0.04,"R":0.032,"G":0.022,"K":0.02,"P":0.014,"M":0.004,"V":0.003,"O":0.008},
{"f":0.59,"B":0.036,"D":0.034,"R":0.028,"G":0.018,"K":0.015,"P":0.01,"M":0.006,"V":0.005,"O":0.005},
{"f":0.6,"B":0.04,"D":0.033,"R":0.02,"G":0.012,"K":0.012,"P":0.008,"M":0.009,"V":0.007,"O":0.004},
{"f":0.61,"B":0.016,"D":0.016,"R":0.013,"G":0.009,"K":0.008,"P":0.006,"M":0.007,"V":0.004,"O":0.006},
{"f":0.62,"B":0.022,"D":0.02,"R":0.012,"G":0.011,"K":0.009,"P":0.008,"M":0.005,"V":0.006,"O":0.003},
{"f":0.635,"B":0.011,"D":0.008,"R":0.008,"G":0.006,"K":0.005,"P":0.004,"M":0.003,"V":0.002,"O":0.005},
{"f":0.65,"B":0.022,"D":0.012,"R":0.01,"G":0.008,"K":0.007,"P":0.006,"M":0.005,"V":0.004,"O":0.006},
{"f":0.665,"B":0.024,"D":0.009,"R":0.007,"G":0.004,"K":0.005,"P":0.009,"M":0.007,"V":0.003,"O":0.003},
{"f":0.68,"B":0.017,"D":0.01,"R":0.006,"G":0.006,"K":0.004,"P":0.005,"M":0.004,"V":0.005,"O":0.005},
{"f":0.7,"B":0.014,"D":0.016,"R":0.009,"G":0.005,"K":0.006,"P":0.007,"M":0.006,"V":0.003,"O":0.002},
{"f":0.72,"B":0.022,"D":0.024,"R":0.008,"G":0.008,"K":0.005,"P":0.004,"M":0.008,"V":0.005,"O":0.004},
{"f":0.74,"B":0.031,"D":0.03,"R":0.007,"G":0.006,"K":0.007,"P":0.006,"M":0.005,"V":0.007,"O":0.006},
{"f":0.76,"B":0.023,"D":0.015,"R":0.009,"G":0.009,"K":0.005,"P":0.008,"M":0.007,"V":0.004,"O":0.003},
{"f":0.78,"B":0.021,"D":0.023,"R":0.012,"G":0.007,"K":0.008,"P":0.005,"M":0.004,"V":0.006,"O":0.005},
{"f":0.8,"B":0.033,"D":0.022,"R":0.014,"G":0.01,"K":0.009,"P":0.007,"M":0.006,"V":0.003,"O":0.006},
{"f":0.82,"B":0.03,"D":0.028,"R":0.018,"G":0.008,"K":0.008,"P":0.005,"M":0.008,"V":0.005,"O":0.003},
{"f":0.84,"B":0.036,"D":0.029,"R":0.019,"G":0.012,"K":0.01,"P":0.008,"M":0.005,"V":0.004,"O":0.005},
{"f":0.86,"B":0.028,"D":0.025,"R":0.016,"G":0.01,"K":0.009,"P":0.006,"M":0.007,"V":0.006,"O":0.002},
{"f":0.88,"B":0.03,"D":0.021,"R":0.017,"G":0.011,"K":0.011,"P":0.007,"M":0.004,"V":0.005,"O":0.004},
{"f":0.9,"B":0.024,"D":0.02,"R":0.021,"G":0.013,"K":0.01,"P":0.009,"M":0.006,"V":0.007,"O":0.006},
{"f":0.92,"B":0.028,"D":0.028,"R":0.023,"G":0.016,"K":0.012,"P":0.007,"M":0.005,"V":0.004,"O":0.003},
{"f":0.94,"B":0.025,"D":0.021,"R":0.019,"G":0.012,"K":0.011,"P":0.01,"M":0.007,"V":0.006,"O":0.005},
{"f":0.96,"B":0.018,"D":0.016,"R":0.014,"G":0.01,"K":0.009,"P":0.008,"M":0.006,"V":0.005,"O":0.007},
{"f":0.98,"B":0.022,"D":0.018,"R":0.016,"G":0.013,"K":0.01,"P":0.011,"M":0.008,"V":0.007,"O":0.004},
{"f":1,"B":0.025,"D":0.022,"R":0.02,"G":0.016,"K":0.012,"P":0.01,"M":0.009,"V":0.008,"O":0.006},
{"f":1.01,"B":0.034,"D":0.028,"R":0.022,"G":0.018,"K":0.014,"P":0.012,"M":0.011,"V":0.01,"O":0.008},
{"f":1.02,"B":0.022,"D":0.02,"R":0.02,"G":0.017,"K":0.013,"P":0.011,"M":0.01,"V":0.009,"O":0.007},
{"f":1.03,"B":0.03,"D":0.028,"R":0.024,"G":0.02,"K":0.017,"P":0.015,"M":0.013,"V":0.011,"O":0.009},
{"f":1.04,"B":0.05,"D":0.046,"R":0.031,"G":0.025,"K":0.022,"P":0.02,"M":0.017,"V":0.014,"O":0.012},
{"f":1.045,"B":0.064,"D":0.059,"R":0.038,"G":0.031,"K":0.027,"P":0.025,"M":0.021,"V":0.017,"O":0.015},
{"f":1.05,"B":0.077,"D":0.071,"R":0.046,"G":0.036,"K":0.032,"P":0.03,"M":0.025,"V":0.02,"O":0.018},
{"f":1.055,"B":0.083,"D":0.076,"R":0.049,"G":0.039,"K":0.035,"P":0.032,"M":0.027,"V":0.022,"O":0.019},
{"f":1.06,"B":0.077,"D":0.07,"R":0.045,"G":0.036,"K":0.032,"P":0.03,"M":0.025,"V":0.02,"O":0.018},
{"f":1.07,"B":0.045,"D":0.042,"R":0.027,"G":0.021,"K":0.02,"P":0.018,"M":0.015,"V":0.012,"O":0.011},
{"f":1.08,"B":0.025,"D":0.026,"R":0.015,"G":0.012,"K":0.013,"P":0.01,"M":0.008,"V":0.006,"O":0.005},
{"f":1.09,"B":0.024,"D":0.027,"R":0.017,"G":0.011,"K":0.01,"P":0.009,"M":0.009,"V":0.007,"O":0.006},
{"f":1.1,"B":0.015,"D":0.014,"R":0.011,"G":0.007,"K":0.006,"P":0.006,"M":0.006,"V":0.004,"O":0.003},
{"f":1.12,"B":0.008,"D":0.006,"R":0.007,"G":0.004,"K":0.003,"P":0.004,"M":0.004,"V":0.003,"O":0.005},
{"f":1.14,"B":0.01,"D":0.008,"R":0.006,"G":0.006,"K":0.001,"P":0.007,"M":0.006,"V":0.005,"O":0.002},
{"f":1.16,"B":0.016,"D":0.009,"R":0.009,"G":0.005,"K":0.005,"P":0.005,"M":0.004,"V":0.003,"O":0.004},
{"f":1.18,"B":0.015,"D":0.01,"R":0.007,"G":0.007,"K":0.004,"P":0.008,"M":0.007,"V":0.005,"O":0.006},
{"f":1.2,"B":0.01,"D":0.012,"R":0.008,"G":0.004,"K":0.006,"P":0.004,"M":0.005,"V":0.007,"O":0.003},
{"f":1.22,"B":0.015,"D":0.013,"R":0.005,"G":0.006,"K":0.003,"P":0.006,"M":0.003,"V":0.004,"O":0.005},
{"f":1.24,"B":0.018,"D":0.01,"R":0.007,"G":0.004,"K":0.005,"P":0.003,"M":0.006,"V":0.006,"O":0.002},
{"f":1.26,"B":0.023,"D":0.011,"R":0.006,"G":0.005,"K":0.002,"P":0.007,"M":0.004,"V":0.003,"O":0.004},
{"f":1.28,"B":0.02,"D":0.01,"R":0.008,"G":0.007,"K":0.004,"P":0.005,"M":0.006,"V":0.005,"O":0.006},
{"f":1.3,"B":0.015,"D":0.012,"R":0.005,"G":0.004,"K":0.003,"P":0.003,"M":0.003,"V":0.006,"O":0.003},
{"f":1.32,"B":0.014,"D":0.016,"R":0.007,"G":0.006,"K":0.002,"P":0.006,"M":0.005,"V":0.003,"O":0.005},
{"f":1.34,"B":0.009,"D":0.008,"R":0.004,"G":0.003,"K":0.004,"P":0.004,"M":0.007,"V":0.005,"O":0.002},
{"f":1.36,"B":0.011,"D":0.012,"R":0.006,"G":0.005,"K":0.003,"P":0.007,"M":0.004,"V":0.004,"O":0.004},
{"f":1.38,"B":0.006,"D":0.006,"R":0.005,"G":0.004,"K":0.002,"P":0.005,"M":0.006,"V":0.006,"O":0.006},
{"f":1.4,"B":0.01,"D":0.01,"R":0.007,"G":0.008,"K":0.004,"P":0.006,"M":0.009,"V":0.004,"O":0.008}
]
},
"vconcat":[
{
"width":881,"height":489,
"layer":[
{"data":{"name":"td"},
"transform":[{"fold":["B","D","R","G","K","P","M","V","O"],"as":["s","v"]}],
"mark":{"type":"line","strokeWidth":2.8,"clip":true},
"encoding":{
"x":{"field":"t","type":"quantitative","scale":{"domain":[-12,37.85],"nice":false,"zero":false},"axis":{"values":[-10,-5,0,5,10,15,20,25,30,35],"labelExpr":"datum.value % 10 == 0 ? datum.label : ''","title":"Time (ps)","labelPadding":11,"titlePadding":12}},
"y":{"field":"v","type":"quantitative","scale":{"domain":[-0.01,0.01],"nice":false,"zero":false},"axis":{"values":[-0.01,-0.008,-0.006,-0.004,-0.002,0,0.002,0.004,0.006,0.008,0.01],"labelExpr":"datum.value == 0 ? '0' : (abs(datum.value) > 0.0099 ? format(datum.value, '.2f') : '')","title":"Signal field amplitude (a.u.)","labelPadding":10,"titleX":-68}},
"color":{"field":"s","type":"nominal","scale":{"domain":["B","D","R","G","K","P","M","V","O"],"range":["#0000FF","#800000","#FF0000","#008000","#000000","#800080","#FF1493","#8000FF","#FF8C1A"]},"legend":null}
}},
{"data":{"values":[{}]},
"mark":{"type":"rect","filled":false,"stroke":"black","strokeWidth":2.5,"strokeDash":[10,8]},
"encoding":{
"x":{"datum":3.38,"type":"quantitative","scale":{"domain":[-12,37.85],"nice":false,"zero":false},"axis":null},
"x2":{"datum":37.85},
"y":{"datum":0.00553,"type":"quantitative","scale":{"domain":[-0.01,0.01],"nice":false,"zero":false},"axis":null},
"y2":{"datum":-0.00527}
}},
{"data":{"values":[{}]},
"mark":{"type":"rule","strokeWidth":2.5,"color":"black"},
"encoding":{
"x":{"datum":-7.73,"type":"quantitative","scale":{"domain":[-12,37.85],"nice":false,"zero":false},"axis":null},
"x2":{"datum":-4.2},
"y":{"datum":0.0064,"type":"quantitative","scale":{"domain":[-0.01,0.01],"nice":false,"zero":false},"axis":null},
"y2":{"datum":0.0037}
}},
{"data":{"values":[{}]},
"mark":{"type":"rule","strokeWidth":2.5,"color":"black"},
"encoding":{
"x":{"datum":-4.11,"type":"quantitative","scale":{"domain":[-12,37.85],"nice":false,"zero":false},"axis":null},
"x2":{"datum":0.3},
"y":{"datum":-0.00644,"type":"quantitative","scale":{"domain":[-0.01,0.01],"nice":false,"zero":false},"axis":null},
"y2":{"datum":-0.00435}
}},
{"data":{"values":[{}]},
"mark":{"type":"point","shape":"M0,0L0.55,1.7L-0.55,1.7Z","filled":true,"color":"black","opacity":1,"size":450,"angle":137.7},
"encoding":{
"x":{"datum":-3.92,"type":"quantitative","scale":{"domain":[-12,37.85],"nice":false,"zero":false},"axis":null},
"y":{"datum":0.00337,"type":"quantitative","scale":{"domain":[-0.01,0.01],"nice":false,"zero":false},"axis":null}
}},
{"data":{"values":[{}]},
"mark":{"type":"point","shape":"M0,0L0.55,1.7L-0.55,1.7Z","filled":true,"color":"black","opacity":1,"size":450,"angle":57.1},
"encoding":{
"x":{"datum":0.7,"type":"quantitative","scale":{"domain":[-12,37.85],"nice":false,"zero":false},"axis":null},
"y":{"datum":-0.00419,"type":"quantitative","scale":{"domain":[-0.01,0.01],"nice":false,"zero":false},"axis":null}
}},
{"data":{"values":[{}]},
"mark":{"type":"text","text":["Arrival of","THz pulse A"],"fontSize":23,"lineHeight":31,"align":"center","baseline":"middle"},
"encoding":{
"x":{"datum":-6.98,"type":"quantitative","scale":{"domain":[-12,37.85],"nice":false,"zero":false},"axis":null},
"y":{"datum":0.0086,"type":"quantitative","scale":{"domain":[-0.01,0.01],"nice":false,"zero":false},"axis":null}
}},
{"data":{"values":[{}]},
"mark":{"type":"text","text":["Arrival of","THz pulse B"],"fontSize":23,"lineHeight":31,"align":"center","baseline":"middle"},
"encoding":{
"x":{"datum":-5.0,"type":"quantitative","scale":{"domain":[-12,37.85],"nice":false,"zero":false},"axis":null},
"y":{"datum":-0.00707,"type":"quantitative","scale":{"domain":[-0.01,0.01],"nice":false,"zero":false},"axis":null}
}},
{"data":{"values":[{}]},
"mark":{"type":"text","text":["Magnon nonlinear","response"],"fontSize":23,"lineHeight":31,"align":"center","baseline":"middle"},
"encoding":{
"x":{"datum":29.01,"type":"quantitative","scale":{"domain":[-12,37.85],"nice":false,"zero":false},"axis":null},
"y":{"datum":0.00406,"type":"quantitative","scale":{"domain":[-0.01,0.01],"nice":false,"zero":false},"axis":null}
}},
{"data":{"values":[{}]},
"mark":{"type":"text","text":"a","fontSize":24,"fontWeight":"bold","align":"center","baseline":"middle","dx":-90,"dy":7},
"encoding":{
"x":{"datum":-12,"type":"quantitative","scale":{"domain":[-12,37.85],"nice":false,"zero":false},"axis":null},
"y":{"datum":0.01,"type":"quantitative","scale":{"domain":[-0.01,0.01],"nice":false,"zero":false},"axis":null}
}},
{"data":{"values":[{}]},
"mark":{"type":"point","opacity":0},
"encoding":{
"x":{"datum":0,"type":"quantitative","scale":{"domain":[-12,37.85],"nice":false,"zero":false},"axis":{"orient":"top","values":[-10,-5,0,5,10,15,20,25,30,35],"labels":false,"title":null,"ticks":true}},
"y":{"datum":0,"type":"quantitative","scale":{"domain":[-0.01,0.01],"nice":false,"zero":false},"axis":{"orient":"right","values":[-0.01,-0.008,-0.006,-0.004,-0.002,0,0.002,0.004,0.006,0.008,0.01],"labels":false,"title":null,"ticks":true}}
}}
],
"resolve":{"axis":{"x":"independent","y":"independent"}}
},
{
"width":881,"height":490,
"layer":[
{"data":{"name":"ft"},
"transform":[{"fold":["B","D","R","G","K","P","M","V","O"],"as":["s","v"]}],
"mark":{"type":"line","strokeWidth":2.8,"clip":true,"interpolate":"monotone"},
"encoding":{
"x":{"field":"f","type":"quantitative","scale":{"domain":[0,1.4],"nice":false,"zero":false},"axis":{"values":[0,0.2,0.4,0.6,0.8,1,1.2,1.4],"labelExpr":"format(datum.value, '.1~f')","title":"Frequency (THz)","labelPadding":11,"titlePadding":12,"grid":true,"gridColor":"#333333","gridDash":[1.5,9],"gridWidth":1.2}},
"y":{"field":"v","type":"quantitative","scale":{"domain":[0,0.313],"nice":false,"zero":false},"axis":{"values":[0,0.05,0.1,0.15,0.2,0.25,0.3],"labelExpr":"round(datum.value*100) % 10 == 0 ? format(datum.value, '.1~f') : ''","title":"FT amplitude (a.u.)","labelPadding":10,"titleX":-68,"grid":true,"gridColor":"#333333","gridDash":[1.5,9],"gridWidth":1.2}},
"color":{"field":"s","type":"nominal","scale":{"domain":["B","D","R","G","K","P","M","V","O"],"range":["#0000FF","#800000","#FF0000","#008000","#000000","#800080","#FF1493","#8000FF","#FF8C1A"]},"legend":null}
}},
{"data":{"values":[{}]},
"mark":{"type":"text","text":["AF mode","fundamental","frequency"],"fontSize":23,"lineHeight":31.5,"align":"left","baseline":"middle"},
"encoding":{
"x":{"datum":0.5657,"type":"quantitative","scale":{"domain":[0,1.4],"nice":false,"zero":false},"axis":null},
"y":{"datum":0.2693,"type":"quantitative","scale":{"domain":[0,0.313],"nice":false,"zero":false},"axis":null}
}},
{"data":{"values":[{}]},
"mark":{"type":"text","text":["AF mode second","harmonic frequency"],"fontSize":23,"lineHeight":33,"align":"left","baseline":"middle"},
"encoding":{
"x":{"datum":0.963,"type":"quantitative","scale":{"domain":[0,1.4],"nice":false,"zero":false},"axis":null},
"y":{"datum":0.1225,"type":"quantitative","scale":{"domain":[0,0.313],"nice":false,"zero":false},"axis":null}
}},
{"data":{"values":[{}]},
"mark":{"type":"text","text":"b","fontSize":24,"fontWeight":"bold","align":"center","baseline":"middle","dx":-89,"dy":5},
"encoding":{
"x":{"datum":0,"type":"quantitative","scale":{"domain":[0,1.4],"nice":false,"zero":false},"axis":null},
"y":{"datum":0.313,"type":"quantitative","scale":{"domain":[0,0.313],"nice":false,"zero":false},"axis":null}
}},
{"data":{"values":[{}]},
"mark":{"type":"point","opacity":0},
"encoding":{
"x":{"datum":0,"type":"quantitative","scale":{"domain":[0,1.4],"nice":false,"zero":false},"axis":{"orient":"top","values":[0,0.2,0.4,0.6,0.8,1,1.2,1.4],"labels":false,"title":null,"ticks":true}},
"y":{"datum":0,"type":"quantitative","scale":{"domain":[0,0.313],"nice":false,"zero":false},"axis":{"orient":"right","values":[0,0.05,0.1,0.15,0.2,0.25,0.3],"labels":false,"title":null,"ticks":true}}
}}
],
"resolve":{"axis":{"x":"independent","y":"independent"}}
}
]
}
